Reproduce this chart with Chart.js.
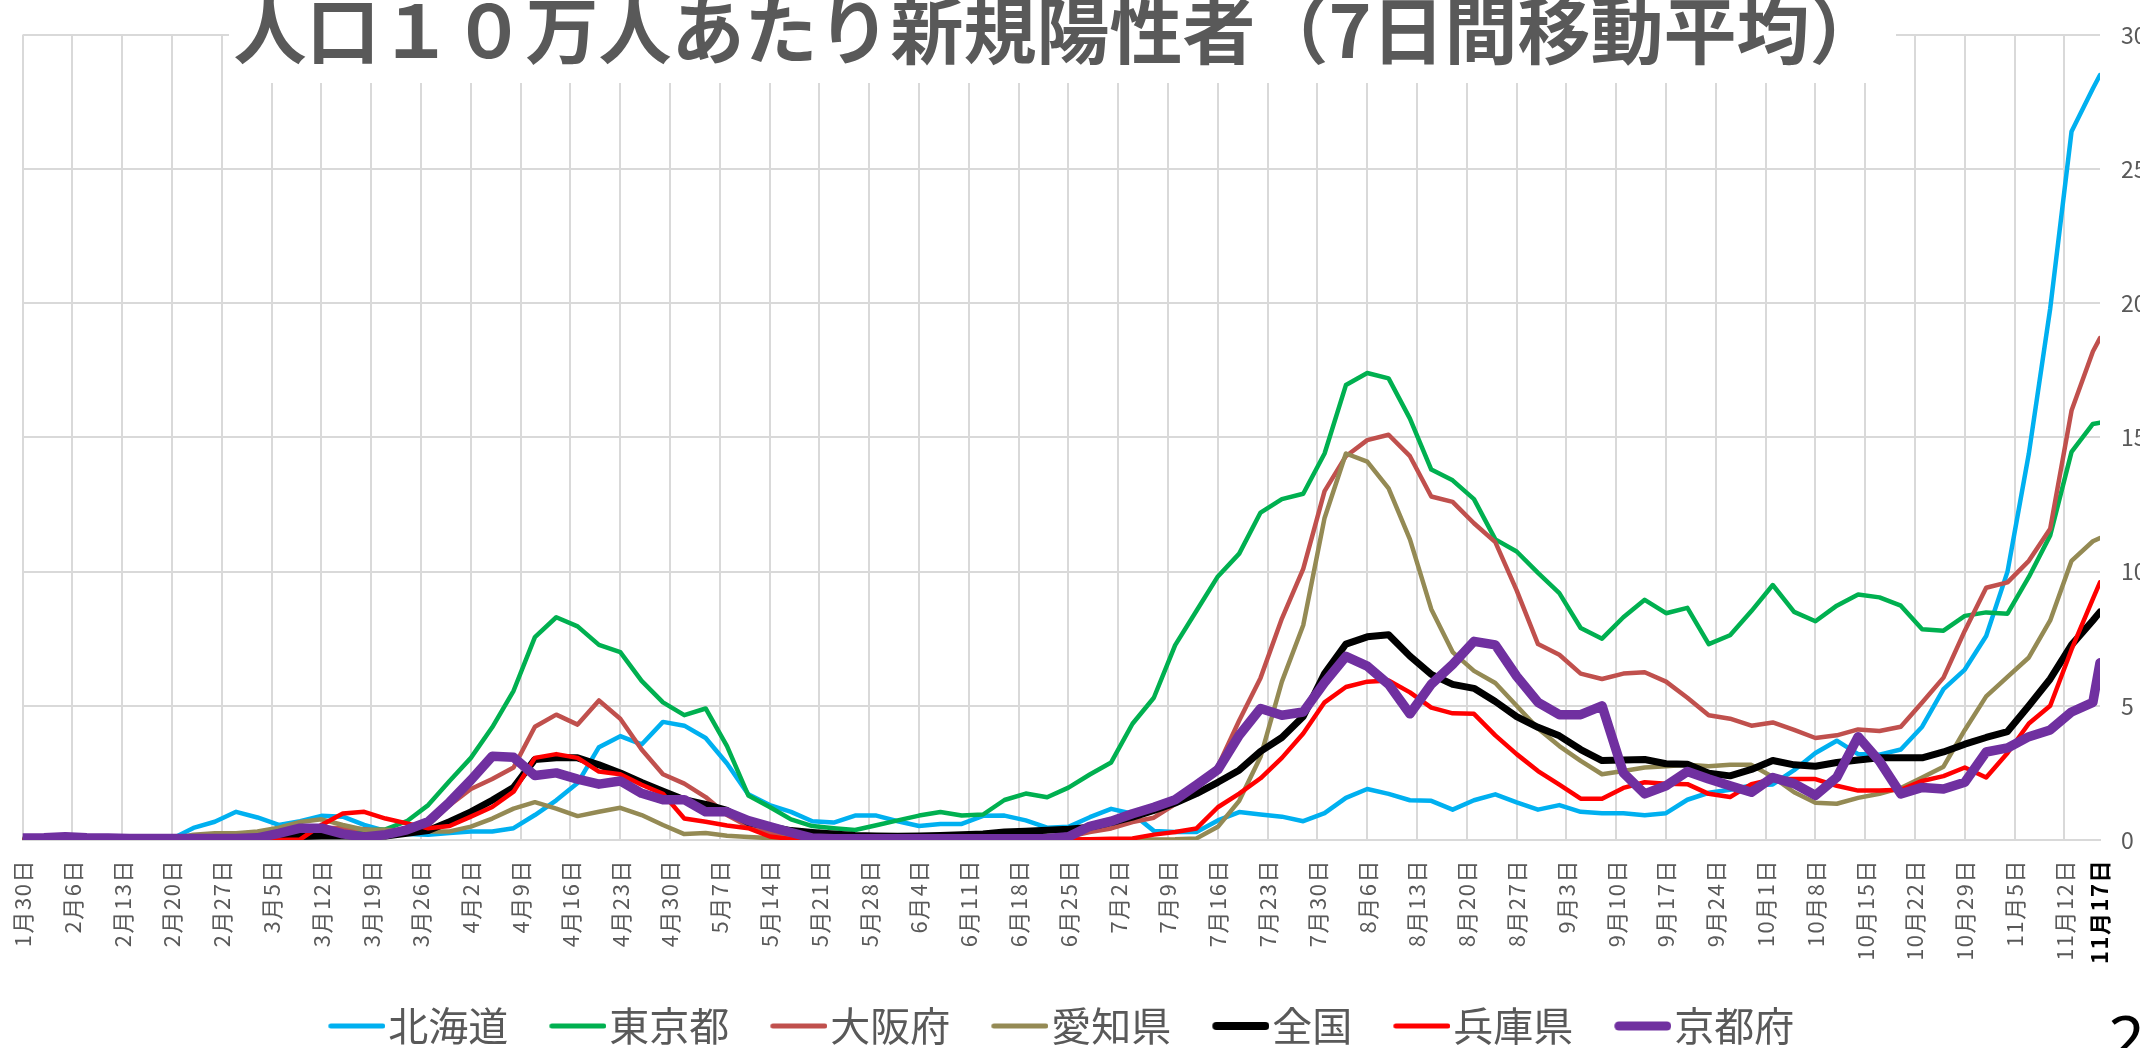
<!DOCTYPE html>
<html>
<head>
<meta charset="utf-8">
<script src="https://cdn.jsdelivr.net/npm/chart.js@4.4.1/dist/chart.umd.min.js"></script>
<style>
  html, body { margin: 0; padding: 0; background: #fff; overflow: hidden; }
  #wrap { position: absolute; left: 0; top: 0; width: 2180px; height: 1048px; }
  #pageNo { position: absolute; left: 2108px; top: 1006px; font: 64px 'Noto Sans', sans-serif; line-height: 64px; color: #000; }
</style>
</head>
<body>
<div id="wrap"><canvas id="myChart" width="2180" height="1048"></canvas></div>
<div id="pageNo">2</div>
<script>
// day index from 1月30日 (0) to 11月17日 (292)
const days = [0,3,6,9,12,15,18,21,24,27,30,33,36,39,42,45,48,51,54,57,60,63,66,69,72,75,78,81,84,87,90,93,96,99,102,105,108,111,114,117,120,123,126,129,132,135,138,141,144,147,150,153,156,159,162,165,168,171,174,177,180,183,186,189,192,195,198,201,204,207,210,213,216,219,222,225,228,231,234,237,240,243,246,249,252,255,258,261,264,267,270,273,276,279,282,285,288,291,292];

const hokkaido = [0,0,0,0,0,0,0.02,0.05,0.45,0.68,1.05,0.84,0.56,0.7,0.9,0.87,0.56,0.34,0.22,0.2,
  0.26,0.32,0.32,0.44,0.93,1.48,2.12,3.46,3.87,3.56,4.4,4.26,3.8,2.85,1.7,1.3,1.05,0.7,0.65,
  0.91,0.91,0.7,0.52,0.6,0.6,0.9,0.91,0.73,0.46,0.49,0.85,1.16,0.98,0.34,0.3,0.3,0.73,1.04,0.95,
  0.87,0.7,1.0,1.57,1.9,1.72,1.48,1.46,1.13,1.48,1.7,1.4,1.13,1.3,1.05,1.0,1.0,0.92,1.0,1.5,
  1.76,1.87,2.03,2.07,2.6,3.24,3.7,3.2,3.18,3.37,4.22,5.62,6.35,7.6,10.0,14.4,19.8,26.4,28.0,28.5];
const tokyo = [0,0,0,0,0,0,0.05,0.1,0.15,0.15,0.15,0.2,0.25,0.3,0.3,0.35,0.35,0.4,0.7,1.3,
  2.2,3.06,4.2,5.56,7.56,8.3,7.96,7.27,7.0,5.93,5.13,4.65,4.9,3.5,1.66,1.23,0.77,0.52,0.44,
  0.37,0.55,0.73,0.91,1.04,0.91,0.95,1.49,1.73,1.59,1.95,2.44,2.89,4.33,5.3,7.26,8.54,9.82,10.67,12.2,
  12.7,12.9,14.4,16.95,17.4,17.2,15.7,13.8,13.4,12.7,11.2,10.75,9.95,9.2,7.9,7.5,8.3,8.95,8.45,8.65,
  7.3,7.63,8.53,9.5,8.5,8.15,8.73,9.15,9.04,8.73,7.85,7.8,8.35,8.48,8.43,9.8,11.35,14.46,15.5,15.55];
const osaka = [0,0,0,0,0,0,0,0,0,0,0.02,0.05,0.2,0.35,0.45,0.45,0.4,0.3,0.35,0.55,
  1.3,1.9,2.27,2.7,4.22,4.67,4.3,5.2,4.52,3.37,2.45,2.1,1.6,0.93,0.5,0.26,0.15,0.08,0.05,
  0.05,0.05,0.03,0.03,0.03,0.03,0.03,0.03,0.04,0.06,0.12,0.3,0.43,0.67,0.83,1.34,2.0,2.74,4.45,6.04,
  8.25,10.1,13.0,14.3,14.9,15.1,14.3,12.8,12.6,11.8,11.1,9.3,7.3,6.9,6.2,6.0,6.2,6.25,5.9,5.3,
  4.65,4.52,4.26,4.38,4.1,3.8,3.9,4.12,4.06,4.22,5.12,6.05,7.8,9.4,9.6,10.4,11.6,16.0,18.2,18.7];
const aichi = [0,0,0,0,0,0,0,0.05,0.2,0.25,0.25,0.32,0.46,0.67,0.77,0.56,0.38,0.38,0.34,0.32,
  0.32,0.5,0.8,1.17,1.41,1.17,0.89,1.05,1.2,0.93,0.56,0.22,0.26,0.16,0.11,0.07,0.1,0.04,0.03,
  0.02,0.02,0.02,0.02,0.02,0.02,0.02,0.02,0.02,0.02,0.02,0.02,0.02,0.02,0.02,0.03,0.06,0.49,1.46,3.1,
  5.9,8.0,12.0,14.4,14.1,13.1,11.2,8.6,7.0,6.3,5.85,5.0,4.15,3.5,2.95,2.45,2.57,2.7,2.75,2.8,
  2.75,2.8,2.8,2.35,1.78,1.39,1.35,1.57,1.72,1.94,2.33,2.73,4.1,5.35,6.08,6.8,8.18,10.4,11.13,11.25];
const national = [0,0,0,0,0,0,0,0,0,0.05,0.05,0.08,0.1,0.13,0.15,0.15,0.15,0.15,0.25,0.35,
  0.68,1.05,1.48,1.96,3.0,3.06,3.06,2.8,2.5,2.14,1.82,1.5,1.33,1.1,0.65,0.5,0.35,0.28,0.22,
  0.17,0.15,0.14,0.15,0.17,0.2,0.22,0.3,0.33,0.36,0.4,0.48,0.65,0.85,1.1,1.38,1.73,2.15,2.6,3.3,
  3.82,4.6,6.2,7.3,7.57,7.65,6.85,6.17,5.8,5.65,5.16,4.6,4.2,3.88,3.37,2.96,2.98,3.0,2.84,2.82,
  2.49,2.39,2.63,2.96,2.8,2.75,2.89,2.98,3.06,3.06,3.06,3.28,3.57,3.82,4.04,5.0,6.0,7.27,8.18,8.5];
const hyogo = [0,0,0,0,0,0,0,0,0,0,0,0,0,0.02,0.56,0.99,1.05,0.8,0.62,0.44,
  0.52,0.87,1.23,1.8,3.06,3.2,3.06,2.55,2.45,2.06,1.72,0.8,0.68,0.54,0.44,0.13,0.04,0.01,0,
  0,0,0,0,0,0,0,0,0,0,0.02,0.03,0.05,0.06,0.2,0.3,0.43,1.22,1.73,2.3,
  3.06,3.97,5.13,5.7,5.9,5.94,5.5,4.93,4.72,4.7,3.9,3.2,2.57,2.06,1.54,1.54,1.94,2.15,2.1,2.08,
  1.72,1.6,2.08,2.27,2.27,2.27,2.02,1.84,1.84,1.87,2.2,2.38,2.7,2.33,3.24,4.34,5.0,7.1,8.98,9.6];
const kyoto = [0.07,0.08,0.12,0.08,0.07,0.06,0.06,0.06,0.06,0.06,0.06,0.08,0.25,0.44,0.44,0.23,0.11,0.2,0.38,0.68,
  1.41,2.23,3.12,3.08,2.4,2.5,2.27,2.08,2.2,1.74,1.5,1.5,1.05,1.05,0.72,0.5,0.28,0.07,0.05,
  0.05,0.05,0.05,0.05,0.05,0.05,0.05,0.05,0.05,0.06,0.12,0.51,0.7,0.98,1.22,1.5,2.05,2.62,3.9,4.9,
  4.65,4.77,5.87,6.84,6.48,5.8,4.7,5.8,6.54,7.4,7.27,6.1,5.13,4.67,4.67,5.0,2.5,1.72,2.02,2.55,
  2.27,2.02,1.78,2.33,2.1,1.66,2.33,3.85,2.94,1.72,1.96,1.9,2.15,3.28,3.43,3.85,4.1,4.77,5.13,6.6];

const tickDays = [0,7,14,21,28,35,42,49,56,63,70,77,84,91,98,105,112,119,126,133,140,147,154,161,168,175,182,189,196,203,210,217,224,231,238,245,252,259,266,273,280,287,292];
const tickLabels = ['1月30日','2月6日','2月13日','2月20日','2月27日','3月5日','3月12日','3月19日','3月26日','4月2日','4月9日','4月16日','4月23日','4月30日','5月7日','5月14日','5月21日','5月28日','6月4日','6月11日','6月18日','6月25日','7月2日','7月9日','7月16日','7月23日','7月30日','8月6日','8月13日','8月20日','8月27日','9月3日','9月10日','9月17日','9月24日','10月1日','10月8日','10月15日','10月22日','10月29日','11月5日','11月12日','11月17日'];

const seriesNames = ['北海道','東京都','大阪府','愛知県','全国','兵庫県','京都府'];
const seriesValues = [hokkaido, tokyo, osaka, aichi, national, hyogo, kyoto];
const seriesColors = ['#00B0F0','#00B050','#C0504D','#948A54','#000000','#FF0000','#7030A0'];
const lineWidths = [4.5, 4.5, 4.5, 4.5, 7, 4.5, 9.5];
const legendWidths = [5, 5, 5, 5, 8, 5, 9];

Chart.defaults.font.family = "'Noto Sans CJK JP', 'Noto Sans', sans-serif";

// short thick line used as legend marker, drawn so it sits close to its label
function legendLine(color, w) {
  const c = document.createElement('canvas');
  c.width = 74; c.height = 16;
  const g = c.getContext('2d');
  g.strokeStyle = color; g.lineWidth = w; g.lineCap = 'round';
  g.beginPath(); g.moveTo(17 + w / 2, 8); g.lineTo(74 - w / 2, 8); g.stroke();
  return c;
}

const titleBox = {
  id: 'titleBox',
  afterDraw(chart, args, o) {
    const ctx = chart.ctx;
    ctx.save();
    ctx.fillStyle = '#ffffff';
    ctx.fillRect(o.x0, 0, o.x1 - o.x0, o.h);
    ctx.fillStyle = o.color;
    ctx.font = o.font;
    ctx.textAlign = 'center';
    ctx.textBaseline = 'middle';
    ctx.fillText(o.text, o.cx, o.cy);
    ctx.restore();
  }
};

// a little letter spacing on the date labels
const spacedLabels = {
  id: 'spacedLabels',
  afterUpdate(chart) {
    const sc = chart.scales.x;
    if (sc && !sc._spaced) {
      const draw = sc.drawLabels.bind(sc);
      sc.drawLabels = function(area) {
        chart.ctx.save();
        chart.ctx.letterSpacing = '1.5px';
        draw(area);
        chart.ctx.restore();
      };
      sc._spaced = true;
    }
  }
};

const datasets = seriesNames.map(function(name, i) {
  return {
    label: name,
    data: days.map(function(d, j) { return {x: d, y: seriesValues[i][j]}; }),
    borderColor: seriesColors[i],
    backgroundColor: seriesColors[i],
    borderWidth: lineWidths[i],
    borderJoinStyle: 'round',
    borderCapStyle: 'round',
    pointRadius: 0,
    tension: 0,
    fill: false,
    order: seriesNames.length - 1 - i
  };
});

var ctx = document.getElementById('myChart').getContext('2d');
var myChart = new Chart(ctx, {
  type: 'line',
  data: { datasets: datasets },
  plugins: [titleBox, spacedLabels],
  options: {
    responsive: false,
    animation: false,
    devicePixelRatio: 1,
    layout: { padding: { left: 22.7, right: 20, top: 20.7, bottom: 0 } },
    scales: {
      x: {
        type: 'linear',
        min: 0,
        max: 292,
        afterBuildTicks: function(scale) {
          scale.ticks = tickDays.map(function(v) { return {value: v}; });
        },
        afterFit: function(scale) { scale.height = 125; },
        grid: {
          color: function(c) { return c.index === tickDays.length - 1 ? 'rgba(0,0,0,0)' : '#D9D9D9'; },
          lineWidth: 2,
          drawTicks: false
        },
        border: { color: '#D9D9D9', width: 2 },
        ticks: {
          autoSkip: false,
          minRotation: 90,
          maxRotation: 90,
          padding: 19,
          color: function(c) { return c.index === tickLabels.length - 1 ? '#000000' : '#595959'; },
          font: function(c) { return c.index === tickLabels.length - 1 ? {size: 22, weight: 'bold'} : {size: 22}; },
          callback: function(value, index) { return tickLabels[index]; }
        }
      },
      y: {
        position: 'right',
        min: 0,
        max: 30,
        afterFit: function(scale) { scale.width = 60; },
        grid: { color: '#D9D9D9', lineWidth: 2, drawTicks: false },
        border: { display: false },
        ticks: { stepSize: 5, padding: 21, color: '#595959', font: { size: 23 } }
      }
    },
    plugins: {
      legend: {
        position: 'bottom',
        fullSize: false,
        maxHeight: 83,
        labels: {
          usePointStyle: true,
          boxWidth: 40,
          boxHeight: 40,
          padding: 41,
          color: '#595959',
          font: { size: 40 },
          generateLabels: function(chart) {
            return chart.data.datasets.map(function(ds, i) {
              return {
                text: ds.label,
                fillStyle: ds.borderColor,
                strokeStyle: ds.borderColor,
                lineWidth: 0,
                pointStyle: legendLine(ds.borderColor, legendWidths[i]),
                fontColor: '#595959',
                hidden: false,
                datasetIndex: i
              };
            });
          }
        }
      },
      tooltip: { enabled: false },
      titleBox: {
        text: '人口１０万人あたり新規陽性者（7日間移動平均）',
        font: "bold 73px 'Noto Sans CJK JP'",
        color: '#595959',
        x0: 229, x1: 1896, h: 83,
        cx: 1058, cy: 30
      }
    }
  }
});
myChart.draw();
</script>
</body>
</html>
